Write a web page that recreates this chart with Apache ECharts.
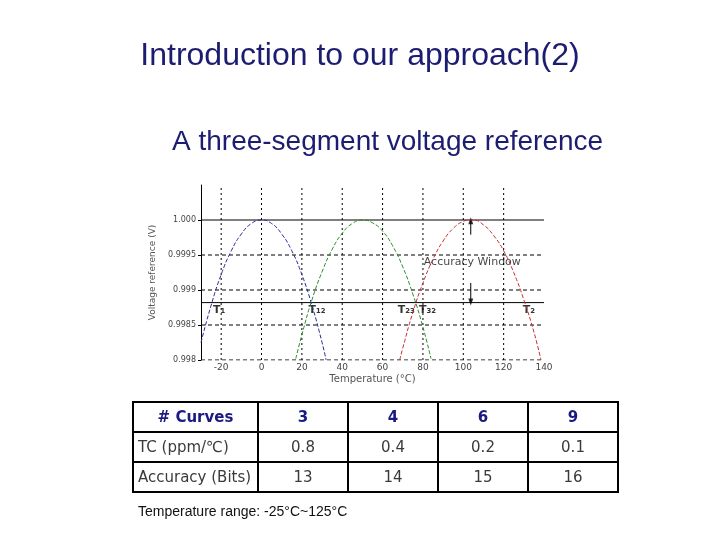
<!DOCTYPE html>
<html>
<head>
<meta charset="utf-8">
<script src="https://cdn.jsdelivr.net/npm/echarts@6/dist/echarts.min.js"></script>
<style>
html,body{margin:0;padding:0;background:#fff;}
#chart{width:720px;height:540px;}
</style>
</head>
<body>
<div id="chart"></div>
<script>
// ---- data ----
var titleText = 'Introduction to our approach(2)';
var subtitleText = 'A three-segment voltage reference';
var noteText = 'Temperature range: -25°C~125°C';

var blueCurve = [[-30,0.99825],[-25,0.99878],[-20,0.99922],[-15,0.99956],[-10,0.99980],[-5,0.99995],[0,1.0000],[5,0.99995],[10,0.99980],[15,0.99956],[20,0.99922],[25,0.99878],[30,0.99825],[32,0.99800]];
var greenCurve = [[17,0.99802],[20,0.99836],[25,0.99886],[30,0.99926],[35,0.99958],[40,0.99981],[45,0.99995],[50,1.0000],[55,0.99996],[60,0.99984],[65,0.99963],[70,0.99933],[75,0.99894],[80,0.99847],[84,0.99802]];
var redCurve = [[68.5,0.99800],[70,0.99817],[75,0.99868],[80,0.99910],[85,0.99944],[90,0.99970],[95,0.99988],[100,0.99998],[103.5,1.0000],[105,1.0000],[110,0.99993],[115,0.99978],[120,0.99956],[125,0.99925],[130,0.99886],[135,0.99840],[138.5,0.99800]];

var xTickValues = [-20,0,20,40,60,80,100,120,140];
var xGridValues = [-20,0,20,40,60,80,100,120];
var yTickValues = [0.998,0.9985,0.999,0.9995,1.000];
var yTickLabels = ['0.998','0.9985','0.999','0.9995','1.000'];
var yDashedValues = [0.998,0.9985,0.999,0.9995];
var ySolidValues = [1.000,0.99882];

var tempLabels = [
  {name:'T\u2081', x:-24, y:0.99871},
  {name:'T\u2081\u2082', x:23.3, y:0.99871},
  {name:'T\u2082\u2083', x:67.5, y:0.99871},
  {name:'T\u2083\u2082', x:78, y:0.99871},
  {name:'T\u2082', x:129.5, y:0.99871}
];
var accuracyLabel = {text:'Accuracy Window', x:80.4, y:0.9994};
var arrowUp = [[103.7,0.99979],[103.7,0.99999]];
var arrowDown = [[103.7,0.99910],[103.7,0.99883]];

var tableHeader = ['# Curves','3','4','6','9'];
var tableRows = [
  ['TC (ppm/\u2103)','0.8','0.4','0.2','0.1'],
  ['Accuracy (Bits)','13','14','15','16']
];

// ---- chart ----
var chart = echarts.init(document.getElementById('chart'));
var X_MIN = -30, X_MAX = 140, Y_MIN = 0.998, Y_MAX = 1.0005;

var colEdges = [133,258,348,438,528,618];
var rowEdges = [402,432,462,492];
var tableGraphics = [];
var allRows = [tableHeader].concat(tableRows);
for (var r = 0; r < allRows.length; r++) {
  for (var c = 0; c < allRows[r].length; c++) {
    tableGraphics.push({
      type:'rect',
      shape:{x:colEdges[c], y:rowEdges[r], width:colEdges[c+1]-colEdges[c], height:rowEdges[r+1]-rowEdges[r]},
      style:{fill:'#fff', stroke:'#000', lineWidth:2},
      silent:true
    });
    var leftAligned = (c === 0 && r > 0);
    tableGraphics.push({
      type:'text',
      x: leftAligned ? colEdges[c] + 5 : (colEdges[c]+colEdges[c+1])/2,
      y:(rowEdges[r]+rowEdges[r+1])/2 + 1,
      style:{
        text:allRows[r][c],
        fill: r === 0 ? '#1a1a80' : '#3a3a3a',
        font: (r === 0 ? '600 ' : '') + '15px "DejaVu Sans", sans-serif',
        align: leftAligned ? 'left' : 'center', verticalAlign:'middle'
      }
    });
  }
}
tableGraphics.push({
  type:'text', x:138, y:512,
  style:{text:noteText, fill:'#111', font:'14px "Liberation Sans", Arial, sans-serif', align:'left', verticalAlign:'middle'}
});

var gridSeries = [];
xGridValues.forEach(function (v) {
  gridSeries.push({type:'line', data:[[v,Y_MIN],[v,Y_MAX]], symbol:'none', silent:true,
    lineStyle:{color:'#000', width:1, type:[2,3]}});
});
yDashedValues.forEach(function (v) {
  gridSeries.push({type:'line', data:[[X_MIN,v],[X_MAX,v]], symbol:'none', silent:true,
    lineStyle:{color:'#000', width:1, type:[4,3]}});
});
ySolidValues.forEach(function (v) {
  gridSeries.push({type:'line', data:[[X_MIN,v],[X_MAX,v]], symbol:'none', silent:true,
    lineStyle:{color:'#000', width:1, type:'solid'}});
});

var option = {
  backgroundColor:'#fff',
  animation:false,
  title:[
    {text:titleText, left:'center', top:35,
     textStyle:{fontFamily:'"Liberation Sans", Arial, sans-serif', fontSize:32, fontWeight:'normal', color:'#1c1c70'}},
    {text:subtitleText, left:167, top:123,
     textStyle:{fontFamily:'"Liberation Sans", Arial, sans-serif', fontSize:28, fontWeight:'normal', color:'#1c1c70'}}
  ],
  grid:{left:201, right:176, top:185, bottom:180, containLabel:false},
  xAxis:{
    type:'value', min:X_MIN, max:X_MAX,
    name:'Temperature (\u00B0C)', nameLocation:'middle', nameGap:14,
    nameTextStyle:{fontSize:10, color:'#555', fontFamily:'"DejaVu Sans", sans-serif'},
    axisLine:{show:false},
    axisTick:{show:false},
    splitLine:{show:false},
    axisLabel:{customValues:xTickValues, fontSize:9, color:'#444', margin:3, fontFamily:'"DejaVu Sans", sans-serif'}
  },
  yAxis:{
    type:'value', min:Y_MIN, max:Y_MAX,
    name:'Voltage reference (V)', nameLocation:'middle', nameGap:44, nameRotate:90,
    nameTextStyle:{fontSize:9, color:'#555', fontFamily:'"DejaVu Sans", sans-serif'},
    axisLine:{show:true, onZero:false, lineStyle:{color:'#000', width:1}},
    axisTick:{show:true, length:3, customValues:yTickValues, lineStyle:{color:'#000'}},
    splitLine:{show:false},
    axisLabel:{
      customValues:yTickValues,
      fontSize:8, color:'#444', margin:5, fontFamily:'"DejaVu Sans", sans-serif',
      formatter:function (v) {
        for (var i = 0; i < yTickValues.length; i++) {
          if (Math.abs(yTickValues[i] - v) < 1e-7) return yTickLabels[i];
        }
        return '';
      }
    }
  },
  graphic:tableGraphics,
  series:gridSeries.concat([
    {type:'line', data:blueCurve, showSymbol:false, smooth:true, lineStyle:{color:'#2a2a96', width:1, type:[4,2]}},
    {type:'line', data:greenCurve, showSymbol:false, smooth:true, lineStyle:{color:'#2b8a2b', width:1, type:[4,2]}},
    {type:'line', data:redCurve, showSymbol:false, smooth:true, lineStyle:{color:'#c43030', width:1, type:[4,2]}},
    {type:'line', data:arrowUp, symbol:'none', silent:true, lineStyle:{color:'#000', width:1}},
    {type:'line', data:arrowDown, symbol:'none', silent:true, lineStyle:{color:'#000', width:1}},
    {type:'scatter', data:[arrowUp[1], arrowDown[1]].map(function (p, i) {
        return {value:p, symbolRotate: i === 0 ? 0 : 180};
      }),
     symbol:'triangle', symbolSize:[5,7], itemStyle:{color:'#000'}, silent:true},
    {type:'scatter', symbolSize:0, silent:true,
     data:tempLabels.map(function (t) { return {value:[t.x,t.y], name:t.name}; }),
     label:{show:true, position:'right', distance:0, formatter:'{b}', color:'#000', fontSize:11, fontWeight:'bold', fontFamily:'"DejaVu Sans", sans-serif'}},
    {type:'scatter', symbolSize:0, silent:true,
     data:[{value:[accuracyLabel.x, accuracyLabel.y], name:accuracyLabel.text}],
     label:{show:true, position:'right', distance:0, formatter:'{b}', color:'#111', fontSize:11, fontFamily:'"DejaVu Sans", sans-serif'}}
  ])
};
chart.setOption(option);
</script>
</body>
</html>
